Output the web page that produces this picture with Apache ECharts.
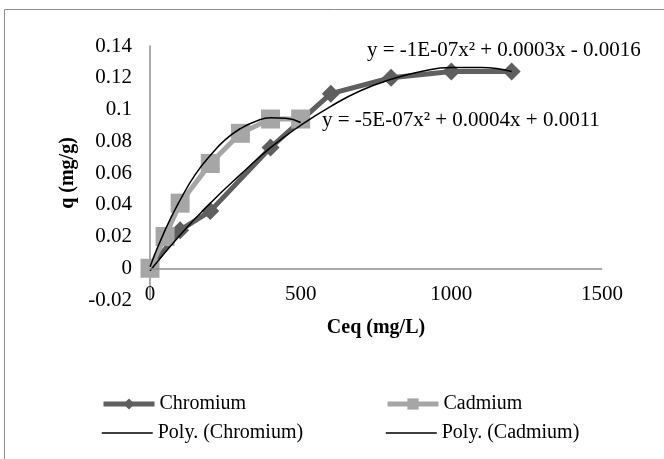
<!DOCTYPE html>
<html>
<head>
<meta charset="utf-8">
<script src="https://cdn.jsdelivr.net/npm/echarts@6/dist/echarts.min.js"></script>
<style>html,body{margin:0;padding:0;background:#fff}#c{width:664px;height:459px}</style>
</head>
<body>
<div id="c"></div>
<script>
// Data
var chromiumX = [0, 100, 200, 400, 600, 800, 1000, 1200];
var chromiumY = [0, 0.024, 0.036, 0.076, 0.110, 0.120, 0.124, 0.124];
var cadmiumX = [0, 50, 100, 200, 300, 400, 500];
var cadmiumY = [0, 0.020, 0.041, 0.066, 0.085, 0.094, 0.094];
var polyChromiumX = [0, 100, 200, 300, 400, 500, 600, 700, 800, 900, 1000, 1100, 1200];
var polyChromiumY = [-0.0016, 0.021, 0.041, 0.059, 0.076, 0.090, 0.102, 0.112, 0.119, 0.124, 0.1265, 0.1265, 0.124];
var polyCadmiumX = [0, 50, 100, 150, 200, 250, 300, 350, 400, 450, 500];
var polyCadmiumY = [0.001, 0.024, 0.043, 0.059, 0.071, 0.081, 0.088, 0.0925, 0.0948, 0.0945, 0.0918];
var seriesNames = ['Chromium', 'Cadmium', 'Poly. (Chromium)', 'Poly. (Cadmium)'];
var eqChromium = 'y = -1E-07x² + 0.0003x - 0.0016';
var eqCadmium = 'y = -5E-07x² + 0.0004x + 0.0011';
var xAxisTitle = 'Ceq (mg/L)';
var yAxisTitle = 'q (mg/g)';

function pairs(xs, ys) { return xs.map(function (x, i) { return [x, ys[i]]; }); }

var FONT = 'Liberation Serif';
var chart = echarts.init(document.getElementById('c'));
var legendText = { fontFamily: FONT, fontSize: 20, color: '#000' };
function leg(name, left, top, lw, hideSymbol) {
  var l = { data: [name], left: left, top: top, itemWidth: 51, itemHeight: 14,
    textStyle: legendText, padding: 0, selectedMode: false,
    lineStyle: { width: lw } };
  if (hideSymbol) l.itemStyle = { opacity: 0 };
  return l;
}
chart.setOption({
  animation: false,
  backgroundColor: '#fff',
  grid: { left: 150, right: 62, top: 46, bottom: 159 },
  xAxis: {
    type: 'value', min: 0, max: 1500, interval: 500,
    axisLine: { show: false }, axisTick: { show: false }, splitLine: { show: false },
    axisLabel: { fontFamily: FONT, fontSize: 21, color: '#000', margin: -16,
      formatter: function (v) { return String(v); } },
    name: xAxisTitle, nameLocation: 'middle', nameGap: 18,
    nameTextStyle: { fontFamily: FONT, fontSize: 20, fontWeight: 'bold', color: '#000' }
  },
  yAxis: {
    type: 'value', min: -0.02, max: 0.14, interval: 0.02,
    axisLine: { show: true, onZero: false, lineStyle: { color: '#8c8c8c', width: 1.5 } },
    axisTick: { show: false }, splitLine: { show: false },
    axisLabel: { fontFamily: FONT, fontSize: 21, color: '#000', margin: 18,
      formatter: function (v) { return String(Math.round(v * 100) / 100); } },
    name: yAxisTitle, nameLocation: 'middle', nameGap: 70, nameRotate: 90,
    nameTextStyle: { fontFamily: FONT, fontSize: 20, fontWeight: 'bold', color: '#000' }
  },
  legend: [leg(seriesNames[0], 101, 394, 5, false), leg(seriesNames[1], 385, 394, 5, false),
           leg(seriesNames[2], 101, 423, 1.5, true), leg(seriesNames[3], 385, 423, 1.5, true)],
  graphic: [
    { type: 'rect', shape: { x: 4.5, y: 9.5, width: 700, height: 500 },
      style: { fill: 'none', stroke: '#8c8c8c', lineWidth: 1 }, silent: true },
    { type: 'text', left: 367, top: 40, style: { text: eqChromium, font: '21px "Liberation Serif"', fill: '#000' }, z: 100 },
    { type: 'text', left: 322, top: 110, style: { text: eqCadmium, font: '21px "Liberation Serif"', fill: '#000' }, z: 100 }
  ],
  series: [
    { name: seriesNames[0], type: 'line', data: pairs(chromiumX, chromiumY),
      symbol: 'diamond', symbolSize: 18, showAllSymbol: true,
      itemStyle: { color: '#5f5f5f' }, lineStyle: { color: '#5f5f5f', width: 5 },
      markLine: { silent: true, symbol: 'none', label: { show: false },
        lineStyle: { color: '#8c8c8c', width: 1.5, type: 'solid' }, data: [{ yAxis: 0 }] }, z: 2 },
    { name: seriesNames[1], type: 'line', data: pairs(cadmiumX, cadmiumY),
      symbol: 'rect', symbolSize: 19, showAllSymbol: true,
      itemStyle: { color: '#a6a6a6' }, lineStyle: { color: '#a6a6a6', width: 5 }, z: 3 },
    { name: seriesNames[2], type: 'line', data: pairs(polyChromiumX, polyChromiumY),
      symbol: 'none', smooth: true, lineStyle: { color: '#000', width: 1.5 }, itemStyle: { color: '#000' }, z: 4 },
    { name: seriesNames[3], type: 'line', data: pairs(polyCadmiumX, polyCadmiumY),
      symbol: 'none', smooth: true, lineStyle: { color: '#000', width: 1.5 }, itemStyle: { color: '#000' }, z: 4 }
  ]
});
</script>
</body>
</html>
